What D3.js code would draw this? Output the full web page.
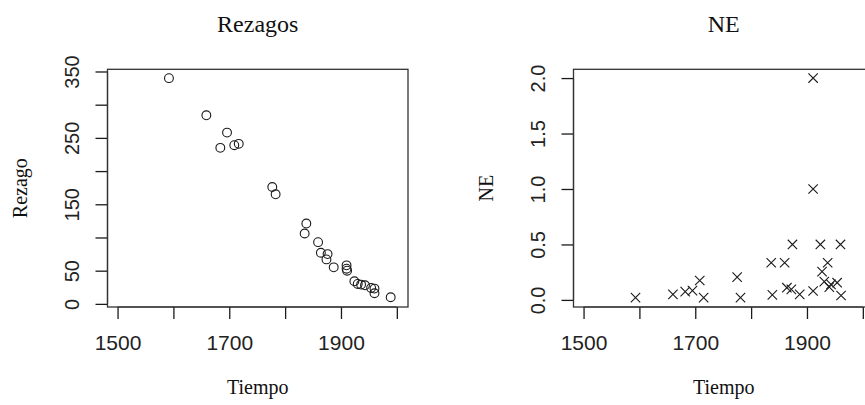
<!DOCTYPE html>
<html>
<head>
<meta charset="utf-8">
<script src="https://cdn.jsdelivr.net/npm/d3@7/dist/d3.min.js"></script>
<style>
html,body{margin:0;padding:0;background:#fff;overflow:hidden;}
svg{display:block;}
</style>
</head>
<body>
<svg id="chart" width="865" height="405"></svg>
<script>
// ---- data ----
const tiempo  = [1592,1659,1696,1684,1709,1717,1777,1783,1838,1835,1859,1864,1876,1874,1887,1910,1910,1911,1924,1930,1936,1943,1954,1960,1960,1989];
const rezago  = [340,284,258,235,239,241,176,165,121,106,93,77,75,67,55,58,53,50,34,30,29,28,24,23,16,10];

const tiempoNE = [1593,1660,1682,1695,1708,1715,1775,1781,1836,1838,1860,1864,1874,1872,1887,1911,1911,1911,1924,1927,1931,1937,1940,1943,1954,1960,1961];
const ne       = [0.02,0.05,0.075,0.084,0.175,0.02,0.205,0.02,0.335,0.045,0.335,0.11,0.5,0.095,0.05,2.0,1.0,0.08,0.5,0.255,0.165,0.335,0.115,0.14,0.155,0.5,0.04];

const xTicks = [1500,1600,1700,1800,1900,2000];
const xTickLabels = ["1500","","1700","","1900",""];
const yTicksRez = [0,50,100,150,200,250,300,350];
const yTickLabelsRez = ["0","50","","150","","250","","350"];
const yTicksNE = [0,0.5,1.0,1.5,2.0];
const yTickLabelsNE = ["0.0","0.5","1.0","1.5","2.0"];

const titles = ["Rezagos","NE"];
const xLab = "Tiempo";
const yLabs = ["Rezago","NE"];

// ---- drawing ----
const svg = d3.select("#chart");
svg.append("rect").attr("width",865).attr("height",405).attr("fill","#fff");

const boxTop = 69.3, boxBottom = 307;
const panels = [
  {left:107.5, right:408, xs:tiempo, ys:rezago, ydom:[-4.7,353.3], yt:yTicksRez, ytl:yTickLabelsRez, shape:"circle", title:titles[0], ylab:yLabs[0]},
  {left:573.5, right:874, xs:tiempoNE, ys:ne, ydom:[-0.064,2.079], yt:yTicksNE, ytl:yTickLabelsNE, shape:"cross", title:titles[1], ylab:yLabs[1]}
];

const ink = "#1a1a1a";
panels.forEach(p => {
  const x = d3.scaleLinear().domain([1482,2020]).range([p.left,p.right]);
  const y = d3.scaleLinear().domain(p.ydom).range([boxBottom,boxTop]);
  const g = svg.append("g");

  // x axis
  const xa = g.append("g").attr("transform",`translate(0,${boxBottom})`)
    .call(d3.axisBottom(x).tickValues(xTicks).tickSize(12).tickPadding(16)
      .tickFormat((d,i)=>xTickLabels[i]));
  xa.select(".domain").attr("stroke",ink).attr("stroke-width",1.2).attr("d",`M${x(1500)},0H${x(2000)}`);
  xa.selectAll(".tick line").attr("stroke",ink).attr("stroke-width",1.3);
  xa.selectAll(".tick text").attr("font-family","'Liberation Sans',Arial,sans-serif")
    .attr("font-size",21).attr("fill","#222").attr("dy","0.71em");

  // y axis
  const ya = g.append("g").attr("transform",`translate(${p.left},0)`)
    .call(d3.axisLeft(y).tickValues(p.yt).tickSize(12).tickPadding(0)
      .tickFormat((d,i)=>p.ytl[i]));
  ya.select(".domain").attr("stroke",ink).attr("stroke-width",1.2)
    .attr("d",`M0,${y(p.yt[0])}V${y(p.yt[p.yt.length-1])}`);
  ya.selectAll(".tick line").attr("stroke",ink).attr("stroke-width",1.3);
  ya.selectAll(".tick text")
    .attr("font-family","'Liberation Sans',Arial,sans-serif")
    .attr("font-size",20).attr("fill","#222")
    .attr("text-anchor","middle").attr("x",null).attr("dy",null)
    .attr("transform","translate(-29,0) rotate(-90)");

  // box
  g.append("rect").attr("x",p.left).attr("y",boxTop)
    .attr("width",p.right-p.left).attr("height",boxBottom-boxTop)
    .attr("fill","none").attr("stroke","#333").attr("stroke-width",1.3);

  // points
  const pts = p.xs.map((v,i)=>[v,p.ys[i]]);
  if (p.shape==="circle") {
    g.selectAll("circle.pt").data(pts).join("circle").attr("class","pt")
      .attr("cx",d=>x(d[0])).attr("cy",d=>y(d[1])).attr("r",4.4)
      .attr("fill","none").attr("stroke",ink).attr("stroke-width",1.1);
  } else {
    const s = 4.7;
    g.selectAll("path.pt").data(pts).join("path").attr("class","pt")
      .attr("d",d=>{const cx=x(d[0]), cy=y(d[1]);
        return `M${cx-s},${cy-s}L${cx+s},${cy+s}M${cx-s},${cy+s}L${cx+s},${cy-s}`;})
      .attr("fill","none").attr("stroke",ink).attr("stroke-width",1.1);
  }

  const cx = (p.left+p.right)/2;
  // title
  g.append("text").attr("x",cx).attr("y",32).attr("text-anchor","middle")
    .attr("font-family","'Liberation Serif','Times New Roman',serif")
    .attr("font-size",24).attr("fill","#111").text(p.title);
  // x label
  g.append("text").attr("x",cx).attr("y",394).attr("text-anchor","middle")
    .attr("font-family","'Liberation Serif','Times New Roman',serif")
    .attr("font-size",20).attr("fill","#111").text(xLab);
  // y label
  g.append("text").attr("transform",`translate(${p.left-81},${(boxTop+boxBottom)/2}) rotate(-90)`)
    .attr("text-anchor","middle")
    .attr("font-family","'Liberation Serif','Times New Roman',serif")
    .attr("font-size",20).attr("fill","#111").text(p.ylab);
});
</script>
</body>
</html>
